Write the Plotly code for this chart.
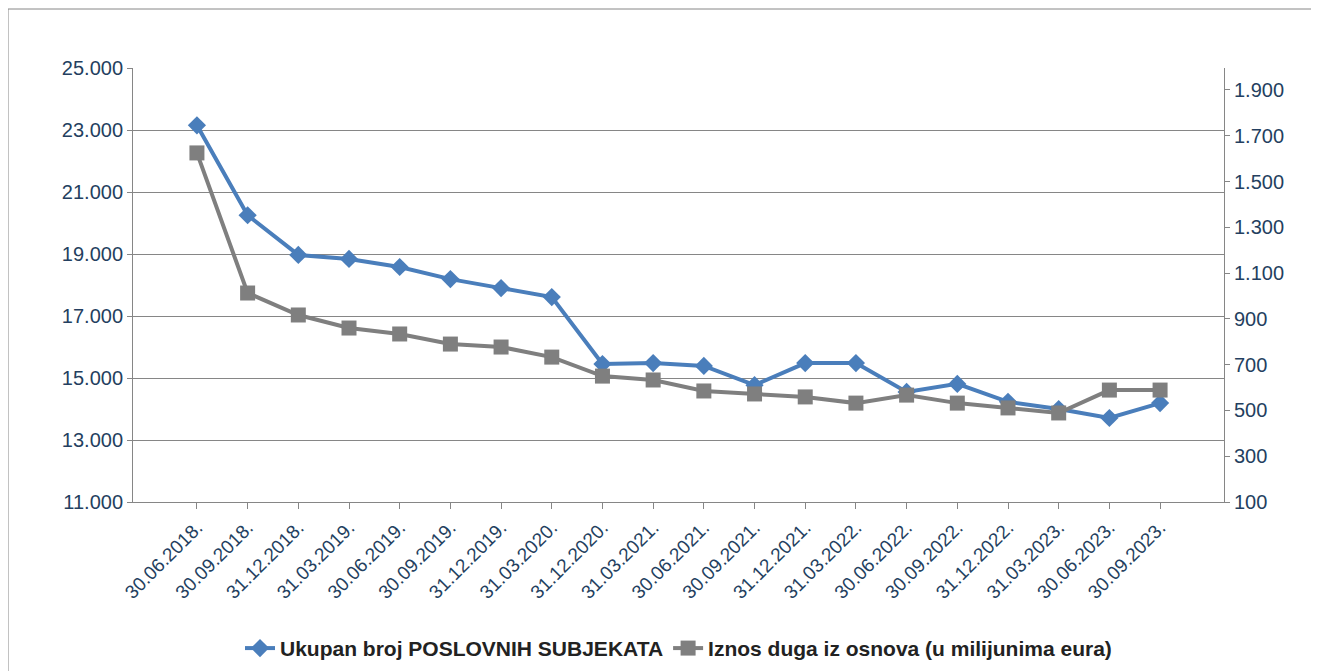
import plotly.graph_objects as go

dates = ["30.06.2018.","30.09.2018.","31.12.2018.","31.03.2019.","30.06.2019.","30.09.2019.",
         "31.12.2019.","31.03.2020.","31.12.2020.","31.03.2021.","30.06.2021.","30.09.2021.",
         "31.12.2021.","31.03.2022.","30.06.2022.","30.09.2022.","31.12.2022.","31.03.2023.",
         "30.06.2023.","30.09.2023."]
subjekti = [23150, 20250, 18970, 18840, 18580, 18190, 17900, 17610, 15450, 15480, 15390, 14770,
            15480, 15480, 14550, 14810, 14230, 14000, 13710, 14190]
dug = [1625, 1013, 917, 860, 834, 790, 777, 733, 650, 633, 585, 572, 559, 532, 567, 532, 511, 489, 589, 589]

tickc = "#243F60"
fig = go.Figure()
fig.add_trace(go.Scatter(x=dates, y=subjekti, name="Ukupan broj POSLOVNIH SUBJEKATA",
                         mode="lines+markers", line=dict(color="#4A7EBB", width=4),
                         marker=dict(symbol="diamond", size=14, color="#4A7EBB")))
fig.add_trace(go.Scatter(x=dates, y=dug, name="Iznos duga iz osnova (u milijunima eura)", yaxis="y2",
                         mode="lines+markers", line=dict(color="#7F7F7F", width=4),
                         marker=dict(symbol="square", size=15, color="#7F7F7F")))
fig.update_layout(
    width=1319, height=671, paper_bgcolor="white", plot_bgcolor="white",
    margin=dict(l=125, r=103, t=60, b=177),
    font=dict(family="Liberation Sans, Arial", color=tickc, size=20),
    xaxis=dict(tickangle=-45, showgrid=False, showline=True, linecolor="#868686", automargin=False,
               ticks="outside", ticklen=6, tickcolor="#868686", tickfont=dict(size=19)),
    yaxis=dict(range=[11000, 25000], tick0=11000, dtick=2000, tickformat=",d", automargin=False,
               showgrid=True, gridcolor="#868686", gridwidth=1, showline=True, linecolor="#868686",
               ticks="outside", tickcolor="#868686", zeroline=False),
    yaxis2=dict(range=[100, 1996], tick0=100, dtick=200, overlaying="y", side="right",
                tickformat=",d", automargin=False,
                showgrid=False, showline=True, linecolor="#868686", ticks="outside",
                tickcolor="#868686", zeroline=False),
    separators=",.",
    legend=dict(orientation="h", x=0.5, xanchor="center", y=0.015, yref="container", yanchor="bottom",
                font=dict(size=21, color="#222222", weight="bold")),
    shapes=[dict(type="rect", xref="paper", yref="paper", x0=-125/1091, x1=1+101/1091,
                 y0=-176/434, y1=1+59/434, line=dict(color="#868686", width=1))],
)
fig.write_html("out.html")
